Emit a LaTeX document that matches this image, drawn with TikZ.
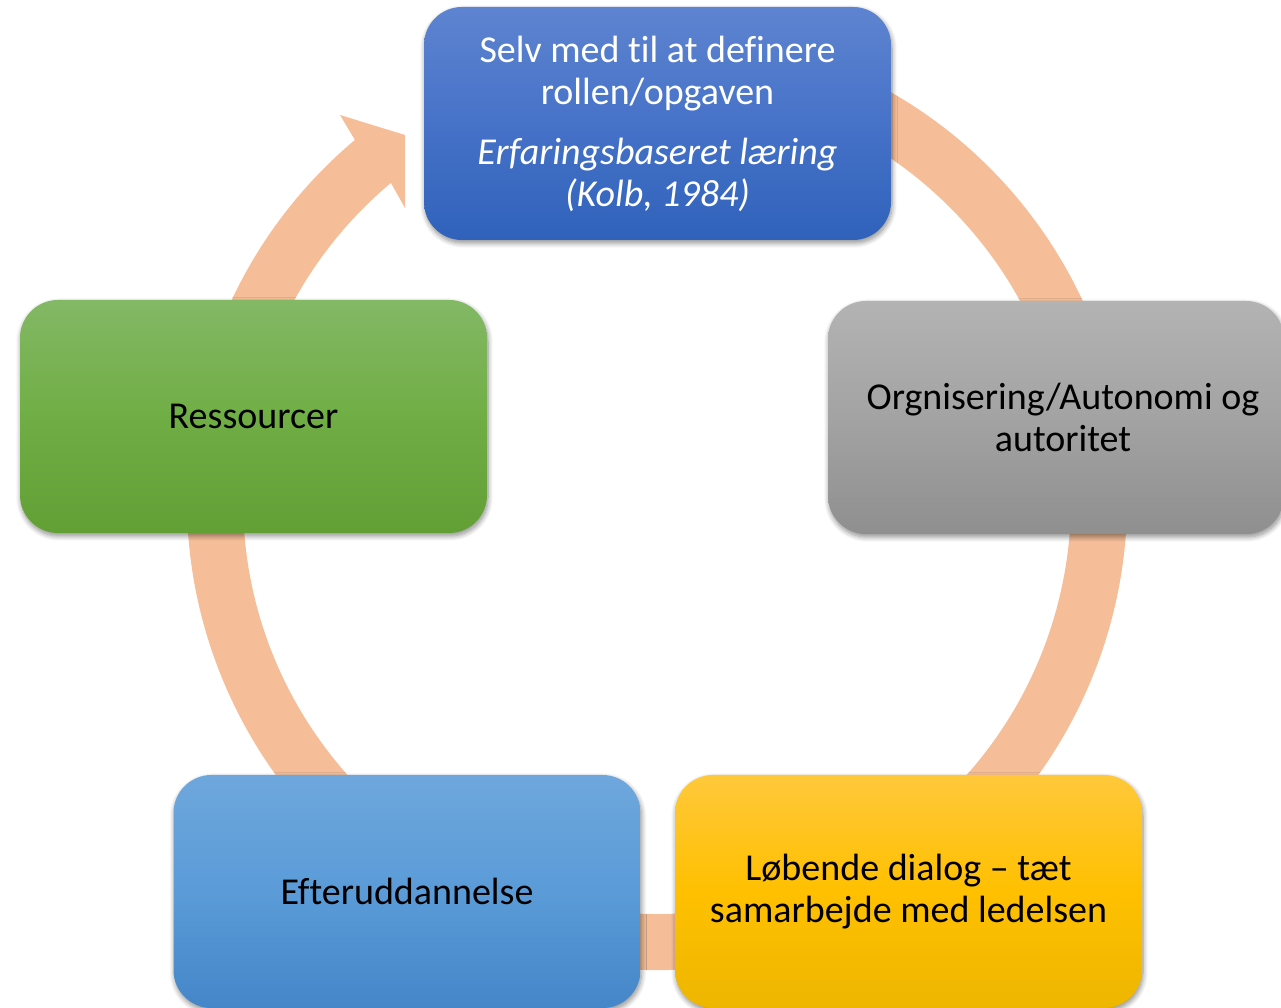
\documentclass[tikz,border=0pt]{standalone}
\usepackage{fontspec}
\setmainfont{Carlito}[Ligatures={NoCommon,NoContextual},RawFeature={-calt;-liga;-clig}]
\usetikzlibrary{shadows.blur}
\definecolor{arrowc}{HTML}{F5BE98}
\definecolor{dbA}{HTML}{5E84D0}\definecolor{dbB}{HTML}{4672C8}\definecolor{dbC}{HTML}{3062BB}
\definecolor{lbA}{HTML}{6EA7DC}\definecolor{lbB}{HTML}{5A9BD8}\definecolor{lbC}{HTML}{4486C8}
\definecolor{grA}{HTML}{83B865}\definecolor{grB}{HTML}{70AE45}\definecolor{grC}{HTML}{62A036}
\definecolor{gyA}{HTML}{B3B3B3}\definecolor{gyB}{HTML}{A3A3A3}\definecolor{gyC}{HTML}{8F8F8F}
\definecolor{ylA}{HTML}{FFC83B}\definecolor{ylB}{HTML}{FFC000}\definecolor{ylC}{HTML}{EDB600}
\begin{document}
\begin{tikzpicture}[x=1pt,y=1pt,
  box/.style={rounded corners=38pt, minimum width=467pt, minimum height=233pt,
    align=center, inner sep=0pt, font=\fontsize{38}{42}\selectfont,
    blur shadow={shadow xshift=1pt, shadow yshift=-3pt, shadow blur radius=5pt,
      shadow blur steps=8, shadow opacity=45}},
  darkblue/.style={top color=dbA, bottom color=dbC, middle color=dbB, text=white},
  lightblue/.style={top color=lbA, bottom color=lbC, middle color=lbB, text=black},
  greenbox/.style={top color=grA, bottom color=grC, middle color=grB, text=black},
  graybox/.style={top color=gyA, bottom color=gyC, middle color=gyB, text=black},
  yellowbox/.style={top color=ylA, bottom color=ylC, middle color=ylB, text=black}]
\useasboundingbox (0,0) rectangle (1281,1008);
% circular arrow
\fill[arrowc] (657,508) ++(70:470) arc[start angle=70, end angle=-230, radius=470]
  -- (340,893) -- (405,873) -- (405,800) -- (390.9,825.1)
  arc[start angle=-230, end angle=70, radius=414] -- cycle;
% boxes
\node[box, darkblue] (define) at (657.5,884.5)
  {Selv med til at definere\\rollen/opgaven\\[18pt]\textit{Erfaringsbaseret læring}\\\textit{(Kolb, 1984)}};
\node[box, graybox, minimum width=456pt] (org) at (1056,590.5)
  {\hspace*{14pt}Orgnisering/Autonomi og\\\hspace*{14pt}autoritet};
\node[box, yellowbox] (dialog) at (908.5,116.5)
  {Løbende dialog – tæt\\samarbejde med ledelsen};
\node[box, lightblue] (efter) at (407,116.5) {Efteruddannelse};
\node[box, greenbox] (res) at (253.5,591.5) {Ressourcer};
\end{tikzpicture}
\end{document}
